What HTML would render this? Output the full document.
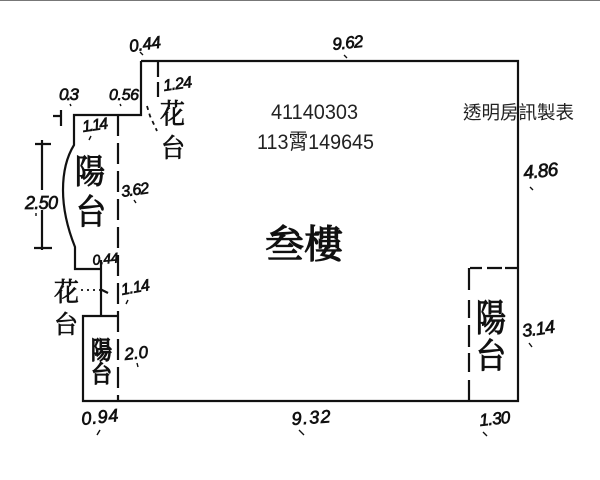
<!DOCTYPE html>
<html><head><meta charset="utf-8"><style>
html,body{margin:0;padding:0;background:#fff}
svg{display:block}
.n{font-family:"Liberation Sans",sans-serif;font-style:italic;font-size:16px;fill:#111;stroke:#111;stroke-width:.7px}
.k{font-family:"Liberation Serif","Noto Serif CJK SC",serif;fill:#111;stroke:#111;stroke-width:.7px}
.t{font-family:"Liberation Sans","Noto Sans CJK TC",sans-serif;fill:#222}
</style></head><body>
<svg width="600" height="480" viewBox="0 0 600 480" xmlns="http://www.w3.org/2000/svg">
<rect width="600" height="480" fill="#fff"/>
<line x1="0" y1="0.5" x2="600" y2="0.5" stroke="#777" stroke-width="1"/>
<g fill="none" stroke="#111" stroke-width="2.2">
<path d="M141 61H518V401H83V316H118M141 61V115H74V145C66 158 63 175 63 190C63 212 69 232 75 247V269H101M101 260V316"/>
<path d="M469 268V290M469 300V318M469 325V347M469 353V372M469 380V401"/>
<path d="M470 268H482M487 268H502M505 268H518"/>
<path d="M118 115V401" stroke-dasharray="21 7"/>
<path d="M158 62V100" stroke-dasharray="15 5"/>
<path d="M42 140V190M42 210V250M35 144H51M34 248H52M53 116H61M61 110V126M100 289L108 293"/>
</g>
<path d="M147 106L150 116L157 131" fill="none" stroke="#111" stroke-width="1.8" stroke-dasharray="4 4"/>
<path d="M81 290H100" fill="none" stroke="#111" stroke-width="1.8" stroke-dasharray="2 4"/>
<g fill="none" stroke="#111" stroke-width="1.4">
<path d="M140 52L143 55M344 55L347 58M70 104L71 106M120 104L121 106M91 136L89 140M134 200L136 203M36 213L36 216M100 430L97 435M299 430L304 435M483 432L487 436M530 187L533 190M529 343L532 347M128 300L126 304M137 363L138 367"/>
</g>
<g class="n">
<text x="130" y="52" transform="rotate(-8 130 52)" textLength="32" font-size="17">0.44</text>
<text x="333" y="50" transform="rotate(-6 333 50)" font-size="17" textLength="31">9.62</text>
<text x="164" y="91" transform="rotate(-8 164 91)" textLength="29">1.24</text>
<text x="59" y="100" font-size="17" textLength="20">0.3</text>
<text x="109" y="100" textLength="30">0.56</text>
<text x="83" y="132" transform="rotate(-8 83 132)" textLength="26">1.14</text>
<text x="122" y="197" transform="rotate(-8 122 197)" textLength="28">3.62</text>
<text x="25" y="209" font-size="18" textLength="33">2.50</text>
<text x="93" y="265" transform="rotate(-6 93 265)" font-size="14" textLength="26">0.44</text>
<text x="122" y="295" transform="rotate(-10 122 295)" textLength="29">1.14</text>
<text x="125" y="360" transform="rotate(-6 125 360)" font-size="17">2.0</text>
<text x="82" y="425" transform="rotate(-6 82 425)" font-size="18" textLength="37">0.94</text>
<text x="292" y="425" transform="rotate(-4 292 425)" font-size="18" textLength="39">9.32</text>
<text x="480" y="426" transform="rotate(-6 480 426)" font-size="17" textLength="31">1.30</text>
<text x="524" y="179" transform="rotate(-6 524 179)" font-size="19" textLength="35">4.86</text>
<text x="523" y="337" transform="rotate(-8 523 337)" font-size="18" textLength="33">3.14</text>
</g>
<g class="k">
<text transform="translate(160 123) scale(1 1.1)" font-size="25">花</text>
<text transform="translate(161 157) scale(1 1.1)" font-size="24">台</text>
<text transform="translate(75 183) scale(1 1.12)" font-size="30" stroke-width="1">陽</text>
<text transform="translate(76 224) scale(1 1.15)" font-size="30" stroke-width="1">台</text>
<text transform="translate(54 301) scale(1 1.05)" font-size="25">花</text>
<text transform="translate(54 333) scale(1 1.05)" font-size="24">台</text>
<text transform="translate(91 359) scale(1 1.2)" font-size="21" stroke-width="1.2">陽</text>
<text transform="translate(91 382) scale(1 1.1)" font-size="21" stroke-width="1.2">台</text>
<text transform="translate(476 331) scale(1 1.25)" font-size="30" stroke-width="1">陽</text>
<text transform="translate(476 368) scale(1 1.15)" font-size="30" stroke-width="1">台</text>
<text x="265" y="258" font-size="39" stroke-width="1.2" textLength="78" lengthAdjust="spacingAndGlyphs">叁樓</text>
</g>
<g class="t">
<text x="271" y="119" font-size="21.5" textLength="87" lengthAdjust="spacingAndGlyphs">41140303</text>
<text x="257" y="149" font-size="21.5" textLength="117" lengthAdjust="spacingAndGlyphs">113霄149645</text>
<text x="463" y="119" font-size="18.5" textLength="111" lengthAdjust="spacingAndGlyphs">透明房訊製表</text>
</g>
</svg>
</body></html>
